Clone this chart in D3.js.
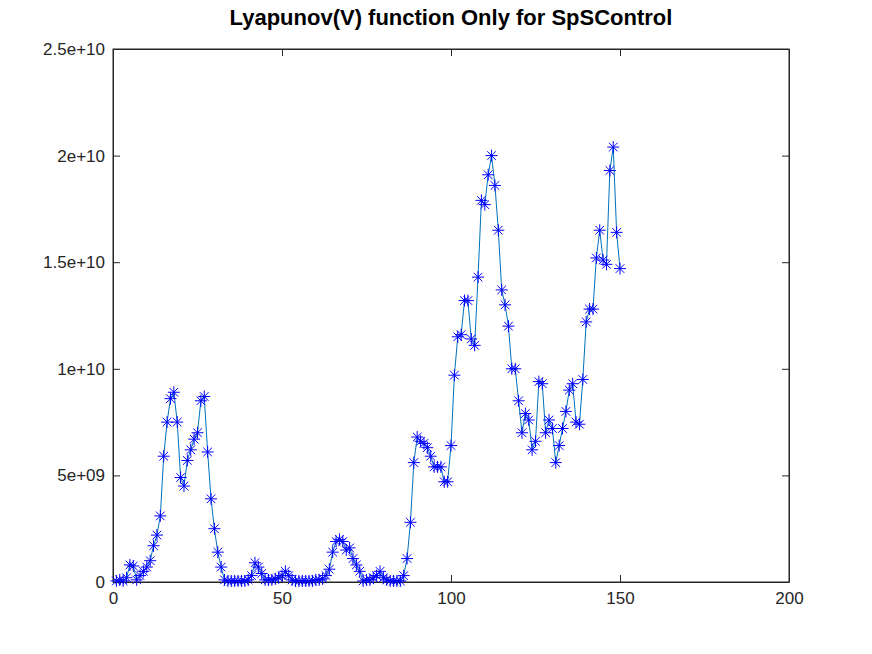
<!DOCTYPE html>
<html><head><meta charset="utf-8">
<script src="https://cdn.jsdelivr.net/npm/d3@7"></script>
<style>body{margin:0;background:#fff}text{font-family:"Liberation Sans",Arial,sans-serif}</style>
</head><body><svg id="c" width="872" height="654"></svg>
<script>
// values in units of 1e9, x = 1..150
var valeurs = [0.05,0.1,0.05,0.2,0.8,0.75,0.1,0.3,0.5,0.7,
1.0,1.7,2.2,3.1,5.9,7.5,8.6,8.9,7.5,4.9,
4.5,5.7,6.2,6.7,7.0,8.5,8.7,6.1,3.9,2.5,
1.4,0.7,0.1,0.05,0.05,0.05,0.05,0.05,0.05,0.1,
0.3,0.9,0.7,0.4,0.1,0.1,0.1,0.15,0.2,0.3,
0.5,0.3,0.1,0.05,0.05,0.05,0.05,0.05,0.05,0.1,
0.1,0.15,0.3,0.6,1.4,1.9,2.0,1.9,1.5,1.6,
1.1,0.8,0.5,0.05,0.1,0.1,0.2,0.3,0.5,0.2,
0.1,0.05,0.05,0.05,0.05,0.3,1.1,2.8,5.6,6.8,
6.6,6.5,6.3,5.9,5.4,5.4,5.4,4.7,4.7,6.4,
9.7,11.5,11.6,13.2,13.2,11.4,11.1,14.3,17.9,17.7,
19.1,20.0,18.6,16.5,13.7,13.0,12.0,10.0,10.0,8.5,
7.0,7.9,7.6,6.2,6.6,9.4,9.3,7.0,7.6,7.2,
5.6,6.4,7.2,8.0,9.0,9.3,7.5,7.4,9.5,12.2,
12.8,12.8,15.2,16.5,15.1,14.9,19.3,20.4,16.4,14.7];
var donnees = valeurs.map(function (v, i) { return {x: i + 1, y: v * 1e9}; });
var xTicks = [0, 50, 100, 150, 200];
var yTicks = [0, 5e9, 1e10, 1.5e10, 2e10, 2.5e10];
var yLabels = ["0", "5e+09", "1e+10", "1.5e+10", "2e+10", "2.5e+10"];

var svg = d3.select("#c");
var L = 113, R = 789, T = 49, B = 582;
var x = d3.scaleLinear().domain([0, 200]).range([L, R]);
var y = d3.scaleLinear().domain([0, 2.5e10]).range([B, T]);

svg.append("rect").attr("x", L).attr("y", T).attr("width", R - L).attr("height", B - T)
    .attr("fill", "none").attr("stroke", "#262626").attr("stroke-width", 1);

svg.append("g").attr("transform", "translate(0," + B + ")")
    .call(d3.axisBottom(x).tickValues(xTicks).tickSizeInner(-7).tickSizeOuter(0).tickPadding(10));
svg.append("g").attr("transform", "translate(" + L + ",0)")
    .call(d3.axisLeft(y).tickValues(yTicks).tickFormat(function (d, i) { return yLabels[i]; })
        .tickSizeInner(-7).tickSizeOuter(0).tickPadding(8));
// top/right ticks
svg.append("g").attr("transform", "translate(0," + T + ")")
    .call(d3.axisTop(x).tickValues(xTicks).tickSizeInner(-7).tickSizeOuter(0).tickFormat(""));
svg.append("g").attr("transform", "translate(" + R + ",0)")
    .call(d3.axisRight(y).tickValues(yTicks).tickSizeInner(-7).tickSizeOuter(0).tickFormat(""));
svg.selectAll(".domain").attr("stroke", "#262626");
svg.selectAll(".tick line").attr("stroke", "#262626");
svg.selectAll(".tick text").attr("font-size", 17).attr("fill", "#262626");

var line = d3.line().x(function (d) { return x(d.x); }).y(function (d) { return y(d.y); });
svg.append("path").datum(donnees).attr("d", line)
    .attr("fill", "none").attr("stroke", "#0072bd").attr("stroke-width", 1);

var star = "M-6,0H6M0,-6V6M-4.3,-4.3L4.3,4.3M-4.3,4.3L4.3,-4.3";
svg.append("g").selectAll("path").data(donnees).enter().append("path")
    .attr("transform", function (d) { return "translate(" + x(d.x) + "," + y(d.y) + ")"; })
    .attr("d", star).attr("stroke", "#0000ff").attr("stroke-width", 1).attr("fill", "none");

svg.append("text").attr("x", (L + R) / 2).attr("y", 25).attr("text-anchor", "middle")
    .attr("font-size", 22).attr("font-weight", "bold").attr("fill", "#000")
    .text("Lyapunov(V) function Only for SpSControl");
</script></body></html>
